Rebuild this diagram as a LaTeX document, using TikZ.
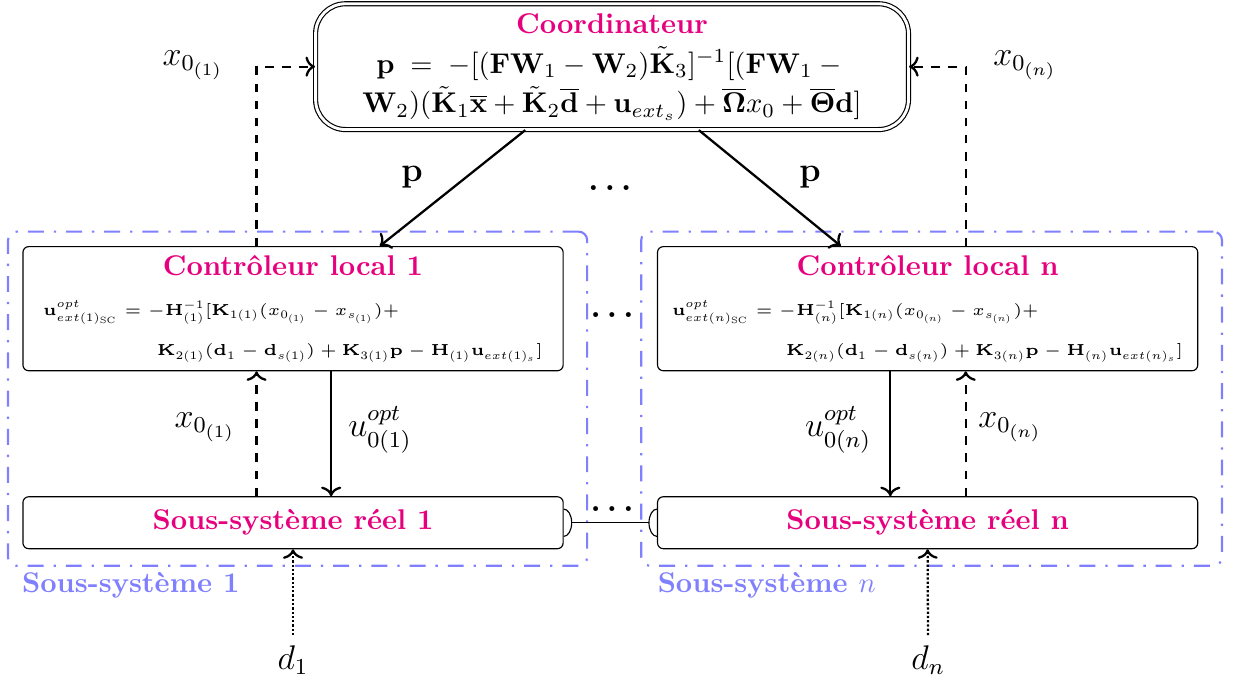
\documentclass[tikz,border=0pt]{standalone}
\usepackage{fix-cm}
\usepackage{amsmath}
\usepackage{amssymb}
\usepackage{tikz}
\usetikzlibrary{positioning,arrows.meta}

\DeclareMathSizes{5.6}{5.6}{4}{3.2}
\definecolor{titlepink}{RGB}{230,0,126}
\newcommand{\boxtitle}[1]{\textcolor{titlepink}{\textbf{#1}}}
\newcommand{\lawsize}{\fontsize{5.6}{6.7}\selectfont}

\begin{document}
\begin{tikzpicture}[>=To, every node/.style={font=\large}]
\tikzset{
  subsys/.style={
    draw=blue!50,
    line width=0.75pt,
    dash pattern=on 5.6pt off 3.5pt on 0.8pt off 3.5pt,
    rounded corners=3pt,
    minimum height=4.12cm,
    inner sep=0pt,
  },
  coordbox/.style={
    draw,
    double,
    double distance=1pt,
    rounded corners=0.37cm,
    minimum width=7.31cm,
    minimum height=1.54cm,
    align=center,
    font=\normalsize,
  },
  ctrlbox/.style={
    draw,
    rounded corners=2pt,
    minimum width=6.66cm,
    minimum height=1.53cm,
    inner sep=1.5pt,
    align=center,
    font=\normalsize,
  },
  realbox/.style={
    draw,
    rounded corners=2pt,
    minimum width=6.66cm,
    minimum height=0.64cm,
    font=\normalsize,
  },
  sublabel/.style={text=blue!50, font=\normalsize\bfseries, anchor=north west, inner sep=0pt},
  dotsnode/.style={font=\large\bfseries},
  flow/.style={thick},
  meas/.style={thick, dashed},
  dist/.style={thick, dash pattern=on 0.8pt off 0.7pt},
  couple/.style={{Arc Barb[reversed,width=10pt,length=3pt]}-{Arc Barb[reversed,width=10pt,length=3pt]}},
}
\useasboundingbox (0,0) rectangle (15.35,8.43);

% subsystems
\node[subsys, minimum width=7.14cm] (sub1) at (3.669,3.514) {};
\node[subsys, minimum width=7.16cm] (subn) at (11.486,3.514) {};
\node[sublabel] (lab1) at ([xshift=0.18cm,yshift=-0.06cm]sub1.south west) {Sous-système 1};
\node[sublabel] (labn) at ([xshift=0.21cm,yshift=-0.06cm]subn.south west) {Sous-système $n$};

% coordinator
\node[coordbox] (coord) at (7.546,7.608) {\boxtitle{Coordinateur}\\[2pt]
  $\mathbf{p} \;=\; -[(\mathbf{F}\mathbf{W}_1 - \mathbf{W}_2)\tilde{\mathbf{K}}_3]^{-1}[(\mathbf{F}\mathbf{W}_1 -{}$\\[2pt]
  $\mathbf{W}_2)(\tilde{\mathbf{K}}_1\overline{\mathbf{x}} + \tilde{\mathbf{K}}_2\overline{\mathbf{d}} + \mathbf{u}_{ext_s}) + \overline{\mathbf{\Omega}}x_0 + \overline{\mathbf{\Theta}}\mathbf{d}]$};

% local controllers
\node[ctrlbox] (ctrl1) at (3.613,4.624) {\boxtitle{Contrôleur local 1}\\[2pt]
  {\lawsize$\begin{array}[t]{@{}l@{}}
  \mathbf{u}^{opt}_{ext(1)_{\mathrm{SC}}} = -\mathbf{H}^{-1}_{(1)}[\mathbf{K}_{1(1)}(x_{0_{(1)}} - x_{s_{(1)}})+ \\[7.5pt]
  \hspace{40pt}\mathbf{K}_{2(1)}(\mathbf{d}_1 - \mathbf{d}_{s(1)}) + \mathbf{K}_{3(1)}\mathbf{p} - \mathbf{H}_{(1)}\mathbf{u}_{ext(1)_s}]
  \end{array}$}};
\node[ctrlbox] (ctrln) at (11.437,4.624) {\boxtitle{Contrôleur local n}\\[2pt]
  {\lawsize$\begin{array}[t]{@{}l@{}}
  \mathbf{u}^{opt}_{ext(n)_{\mathrm{SC}}} = -\mathbf{H}^{-1}_{(n)}[\mathbf{K}_{1(n)}(x_{0_{(n)}} - x_{s_{(n)}})+ \\[7.5pt]
  \hspace{40pt}\mathbf{K}_{2(n)}(\mathbf{d}_1 - \mathbf{d}_{s(n)}) + \mathbf{K}_{3(n)}\mathbf{p} - \mathbf{H}_{(n)}\mathbf{u}_{ext(n)_s}]
  \end{array}$}};

% real subsystems
\node[realbox] (reel1) at (3.613,1.985) {\boxtitle{Sous-système réel 1}};
\node[realbox] (reeln) at (11.437,1.985) {\boxtitle{Sous-système réel n}};

% disturbances
\node (d1) at (3.613,0.296) {$d_1$};
\node (dn) at (11.443,0.296) {$d_n$};

% labels
\node (p1) at (5.080,6.239) {$\mathbf{p}$};
\node (pn) at (9.988,6.239) {$\mathbf{p}$};
\node (xt1) at (2.380,7.620) {$x_{0_{(1)}}$};
\node (xtn) at (12.639,7.620) {$x_{0_{(n)}}$};
\node (xb1) at (2.528,3.157) {$x_{0_{(1)}}$};
\node (ub1) at (4.686,3.132) {$u^{opt}_{0(1)}$};
\node (ubn) at (10.333,3.132) {$u^{opt}_{0(n)}$};
\node (xbn) at (12.454,3.157) {$x_{0_{(n)}}$};

% dots
\node[dotsnode] (dots1) at (7.52,6.11) {.\,.\,.};
\node[dotsnode] (dots2) at (7.546,4.55) {.\,.\,.};
\node[dotsnode] (dots3) at (7.546,2.15) {.\,.\,.};

% connections
\draw[flow,->] ([xshift=-1.07cm]coord.south) -- ([xshift=1.07cm]ctrl1.north);
\draw[flow,->] ([xshift=1.07cm]coord.south) -- ([xshift=-1.07cm]ctrln.north);
\draw[meas,->] ([xshift=-0.45cm]ctrl1.north) |- (coord.west);
\draw[meas,->] ([xshift=0.47cm]ctrln.north) |- (coord.east);

\draw[meas,->] ([xshift=-0.45cm]reel1.north) -- ([xshift=-0.45cm]ctrl1.south);
\draw[flow,->] ([xshift=0.47cm]ctrl1.south) -- ([xshift=0.47cm]reel1.north);
\draw[flow,->] ([xshift=-0.46cm]ctrln.south) -- ([xshift=-0.46cm]reeln.north);
\draw[meas,->] ([xshift=0.47cm]reeln.north) -- ([xshift=0.47cm]ctrln.south);

\draw[dist,->] (d1) -- (reel1.south);
\draw[dist,->] (dn) -- (reeln.south);
\draw[couple] (reel1.east) -- (reeln.west);

\end{tikzpicture}
\end{document}
